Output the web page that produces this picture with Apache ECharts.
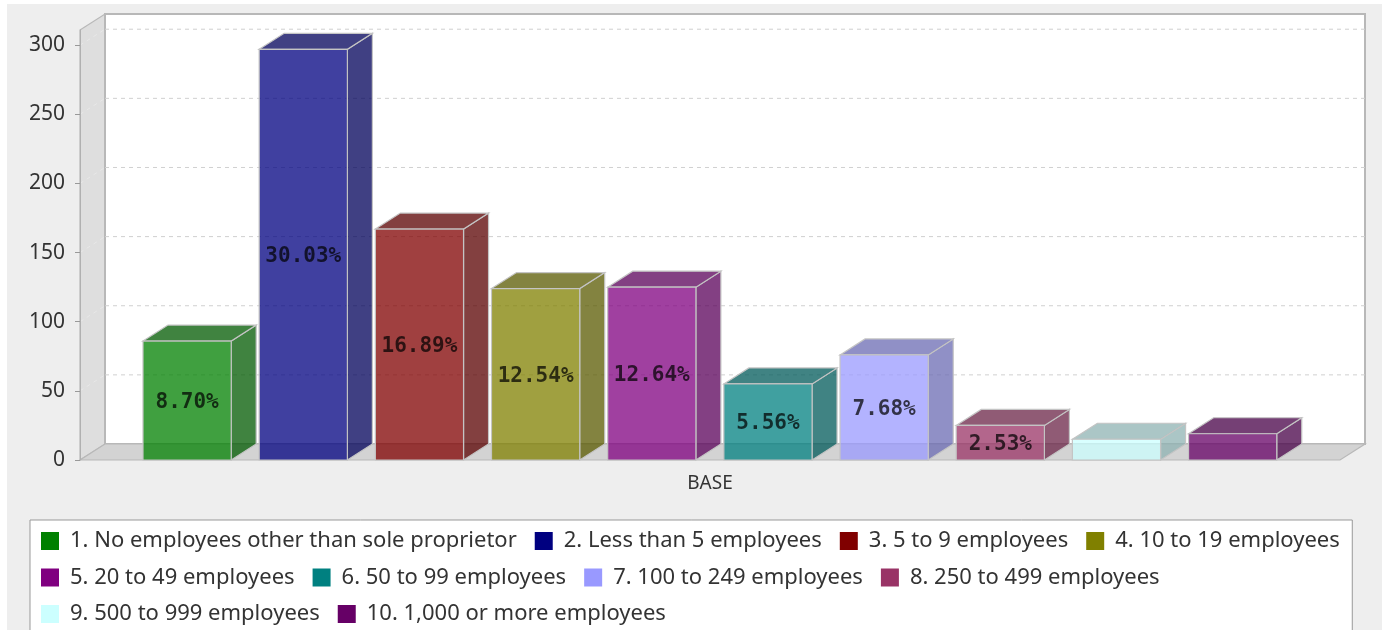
<!DOCTYPE html>
<html>
<head>
<meta charset="utf-8">
<script src="https://cdn.jsdelivr.net/npm/echarts@6/dist/echarts.min.js"></script>
<style>
  html, body { margin: 0; padding: 0; background: #fff; }
  #chart { position: absolute; left: 7px; top: 4px; width: 1375px; height: 626px; background: #eeeeee; }
</style>
</head>
<body>
<div id="chart"></div>
<script>
const categories = ["BASE"];
const seriesNames = [
  "1. No employees other than sole proprietor",
  "2. Less than 5 employees",
  "3. 5 to 9 employees",
  "4. 10 to 19 employees",
  "5. 20 to 49 employees",
  "6. 50 to 99 employees",
  "7. 100 to 249 employees",
  "8. 250 to 499 employees",
  "9. 500 to 999 employees",
  "10. 1,000 or more employees",
];
const seriesValues = [86, 297, 167, 124, 125, 55, 76, 25, 15, 19];
const seriesColors = [
  "#008000", "#000080", "#800000", "#808000", "#800080",
  "#008080", "#9999ff", "#993366", "#ccffff", "#660066",
];
const yTicks = [0, 50, 100, 150, 200, 250, 300];
const yMax = 311;

const total = seriesValues.reduce((a, b) => a + b, 0);

// 3d depth offset
const DX = 25;
const DY = 16;

function tint(hex, f, alpha) {
  const n = parseInt(hex.slice(1), 16);
  const r = Math.round(((n >> 16) & 255) * f);
  const g = Math.round(((n >> 8) & 255) * f);
  const b = Math.round((n & 255) * f);
  return `rgba(${r},${g},${b},${alpha})`;
}

function barRenderer(idx) {
  return function (params, api) {
    const band = api.size([1, 0])[0];
    const base = api.coord([api.value(0), 0]);
    const top = api.coord([api.value(0), api.value(1)]);
    const w = band * 0.07;
    const x0 = base[0] - band / 2 + band * 0.05 + idx * band * 0.0922;
    const x1 = x0 + w;
    const yt = top[1];
    const yb = base[1];
    const color = seriesColors[idx];
    const front = tint(color, 1, 0.75);
    const dark = tint(color, 0.7, 0.75);
    const edge = { stroke: "#c4c4c4", lineWidth: 1.2 };
    const children = [
      {
        type: "polygon",
        shape: { points: [[x1, yt], [x1 + DX, yt - DY], [x1 + DX, yb - DY], [x1, yb]] },
        style: Object.assign({ fill: dark }, edge),
      },
      {
        type: "polygon",
        shape: { points: [[x0, yt], [x0 + DX, yt - DY], [x1 + DX, yt - DY], [x1, yt]] },
        style: Object.assign({ fill: dark }, edge),
      },
      {
        type: "rect",
        shape: { x: x0, y: yt, width: w, height: yb - yt },
        style: Object.assign({ fill: front }, edge),
      },
    ];
    if (yb - yt > 28) {
      children.push({
        type: "text",
        x: (x0 + x1) / 2,
        y: (yt + yb) / 2 + 2,
        style: {
          text: ((api.value(1) / total) * 100).toFixed(2) + "%",
          font: 'bold 21px "DejaVu Sans Mono"',
          fill: "#000",
          opacity: 0.72,
          align: "center",
          verticalAlign: "middle",
        },
      });
    }
    return { type: "group", children };
  };
}

function wallsRenderer(params, api) {
  const cs = params.coordSys;
  const x = cs.x, y = cs.y, w = cs.width, h = cs.height;
  const children = [
    {
      type: "polygon",
      shape: { points: [[x, y], [x + DX, y - DY], [x + DX, y + h - DY], [x, y + h]] },
      style: { fill: "#dedede", stroke: "#b8b8b8", lineWidth: 1.2 },
    },
    {
      type: "rect",
      shape: { x: x + DX, y: y - DY, width: w, height: h },
      style: { fill: "#ffffff", stroke: "#b8b8b8", lineWidth: 2 },
    },
    {
      type: "polygon",
      shape: { points: [[x, y + h], [x + DX, y + h - DY], [x + w + DX, y + h - DY], [x + w, y + h]] },
      style: { fill: "#d3d3d3", stroke: "#b8b8b8", lineWidth: 1.2 },
    },
  ];
  yTicks.forEach((t) => {
    if (t === 0) return;
    const yy = api.coord([0, t])[1];
    children.push({
      type: "line",
      shape: { x1: x + DX, y1: yy - DY, x2: x + w + DX, y2: yy - DY },
      style: { stroke: "#d0d0d0", lineWidth: 1, lineDash: [4, 4] },
    });
    children.push({
      type: "line",
      shape: { x1: x, y1: yy, x2: x + DX, y2: yy - DY },
      style: { stroke: "#e8e8e8", lineWidth: 1, lineDash: [4, 4] },
    });
  });
  return { type: "group", children };
}

const chart = echarts.init(document.getElementById("chart"), null, { renderer: "canvas" });

const series = [
  {
    name: "walls",
    type: "custom",
    renderItem: wallsRenderer,
    data: [[0, 0]],
    z: 1,
    silent: true,
  },
];
seriesNames.forEach((name, i) => {
  series.push({
    name,
    type: "custom",
    renderItem: barRenderer(i),
    data: [[0, seriesValues[i]]],
    encode: { x: 0, y: 1 },
    itemStyle: { color: seriesColors[i] },
    z: 2,
  });
});

const option = {
  animation: false,
  backgroundColor: "transparent",
  grid: { left: 73, right: 42, top: 26, bottom: 170 },
  xAxis: {
    type: "category",
    data: categories,
    axisLine: { show: false },
    axisTick: { show: false },
    axisLabel: { color: "#333", fontSize: 19, fontFamily: "Noto Sans", margin: 14 },
  },
  yAxis: {
    type: "value",
    min: 0,
    max: yMax,
    interval: 50,
    z: 10,
    axisLine: { show: true, lineStyle: { color: "#b0b0b0" } },
    axisTick: { show: true, length: 5, lineStyle: { color: "#999" }, customValues: yTicks },
    axisLabel: { color: "#333", fontSize: 21, fontFamily: "Noto Sans", margin: 15, customValues: yTicks },
    splitLine: { show: false },
  },
  legend: {
    data: seriesNames,
    left: 23,
    top: 516,
    width: 1330,
    padding: [10, 9, 10, 11],
    itemGap: 14.5,
    itemWidth: 18,
    itemHeight: 18,
    icon: "rect",
    backgroundColor: "#ffffff",
    borderColor: "#999",
    borderWidth: 1,
    borderRadius: 0,
    textStyle: { color: "#333", fontSize: 22, fontFamily: "Noto Sans", lineHeight: 22, padding: [0, 3.5, 0, 6] },
  },
  series,
};

chart.setOption(option);
</script>
</body>
</html>
